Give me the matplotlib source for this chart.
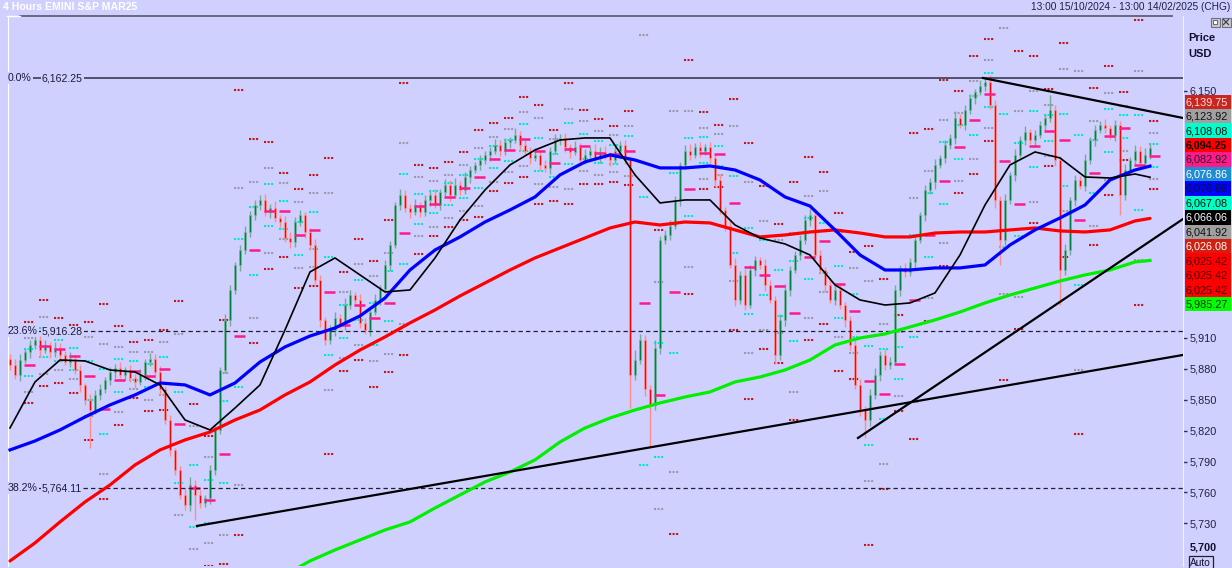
import numpy as np
import matplotlib
matplotlib.use("Agg")
import matplotlib.pyplot as plt
from matplotlib.patches import Rectangle
import matplotlib.transforms as mtransforms

plt.rcParams['font.family'] = ['Liberation Sans', 'DejaVu Sans']

# ---------------- data ----------------
TITLE = "4 Hours EMINI S&P MAR25"
PERIOD = "13:00 15/10/2024 - 13:00 14/02/2025 (CHG)"

first_open = 5890.0
closes = [
    5884, 5874, 5889, 5896, 5903, 5908, 5898, 5903, 5896, 5900,
    5893, 5887, 5890, 5879, 5864, 5850, 5840, 5855, 5860, 5869,
    5877, 5881, 5874, 5879, 5871, 5867, 5874, 5887, 5890, 5877,
    5860, 5830, 5801, 5782, 5758, 5748, 5767, 5758, 5750, 5755,
    5782, 5821, 5879, 5927, 5957, 5981, 5995, 6013, 6029, 6039,
    6044, 6032, 6036, 6026, 6023, 6007, 6003, 6023, 6029, 6013,
    6000, 5966, 5927, 5908, 5918, 5929, 5923, 5942, 5952, 5947,
    5925, 5918, 5935, 5947, 5958, 5981, 6000, 6039, 6049, 6036,
    6032, 6039, 6032, 6044, 6049, 6039, 6052, 6059, 6049, 6059,
    6054, 6066, 6073, 6078, 6083, 6088, 6092, 6097, 6092, 6100,
    6102, 6107, 6097, 6092, 6085, 6088, 6078, 6075, 6092, 6102,
    6104, 6095, 6091, 6095, 6083, 6088, 6092, 6085, 6091, 6088,
    6083, 6092, 6097, 6083, 5874, 5889, 5908, 5860, 5845, 5900,
    6005, 6010, 6019, 6044, 6078, 6092, 6088, 6095, 6092, 6095,
    6085, 6063, 6034, 6019, 5981, 5947, 5971, 5942, 5976, 5986,
    5981, 5961, 5947, 5893, 5927, 5957, 5976, 5991, 6005, 6025,
    6029, 5991, 5976, 5961, 5947, 5957, 5942, 5927, 5903, 5864,
    5840, 5830, 5855, 5874, 5893, 5884, 5887, 5957, 5978, 5974,
    5984, 6005, 6029, 6054, 6061, 6078, 6085, 6097, 6104, 6124,
    6117, 6131, 6143, 6149, 6155, 6159, 6136, 6044, 6005, 6044,
    6068, 6088, 6102, 6110, 6102, 6107, 6117, 6124, 6131, 6083,
    5976, 5995, 6044, 6063, 6058, 6083, 6102, 6112, 6117, 6114,
    6107, 6117, 6049, 6073, 6083, 6092, 6080, 6088, 6094.25,
]
wick_up = [
    4, 6, 5, 3, 5, 6, 4, 5, 3, 6,
    5, 4, 6, 3, 5, 2, 6, 4, 5, 3,
    5, 4, 6, 3, 5, 4, 6, 3, 5, 4,
    6, 3, 5, 2, 4, 6, 8, 5, 4, 3,
    5, 4, 3, 6, 4, 3, 5, 6, 4, 5,
    5, 6, 4, 7, 3, 5, 6, 4, 5, 3,
    4, 6, 5, 3, 5, 6, 4, 7, 5, 3,
    6, 4, 5, 6, 3, 5, 4, 3, 6, 5,
    4, 6, 3, 5, 4, 6, 3, 5, 4, 6,
    3, 5, 4, 3, 5, 4, 3, 6, 5, 4,
    3, 7, 4, 5, 3, 6, 4, 5, 3, 6,
    4, 5, 3, 6, 4, 5, 3, 6, 4, 5,
    3, 6, 4, 5, 3, 9, 6, 5, 4, 8,
    4, 5, 6, 4, 3, 5, 6, 4, 5, 3,
    5, 4, 6, 3, 5, 7, 4, 6, 5, 4,
    3, 6, 5, 4, 6, 5, 4, 3, 5, 4,
    6, 5, 4, 3, 6, 4, 5, 3, 4, 5,
    6, 4, 5, 7, 4, 6, 5, 4, 3, 5,
    4, 6, 3, 5, 4, 6, 3, 5, 4, 6,
    3, 5, 4, 3, 5, 3, 6, 5, 4, 6,
    3, 5, 4, 6, 3, 5, 4, 3, 15, 5,
    4, 6, 3, 5, 4, 6, 3, 5, 4, 6,
    3, 5, 4, 6, 3, 5, 4, 6, 5,
]
wick_dn = [
    5, 4, 6, 3, 5, 4, 6, 3, 5, 4,
    6, 3, 5, 4, 6, 5, 37, 4, 5, 3,
    5, 6, 3, 5, 4, 6, 3, 5, 4, 6,
    5, 4, 6, 5, 4, 5, 6, 25, 5, 4,
    6, 5, 4, 3, 5, 4, 6, 3, 5, 4,
    5, 4, 6, 3, 5, 4, 6, 5, 4, 6,
    5, 4, 6, 5, 4, 6, 3, 5, 4, 6,
    5, 4, 6, 3, 5, 4, 6, 3, 5, 4,
    6, 3, 5, 4, 6, 3, 5, 4, 6, 3,
    5, 4, 6, 3, 5, 4, 6, 3, 5, 4,
    6, 3, 5, 4, 6, 3, 5, 4, 6, 3,
    5, 4, 6, 3, 5, 4, 6, 3, 5, 4,
    6, 3, 5, 4, 32, 5, 4, 6, 41, 5,
    6, 4, 5, 3, 6, 4, 5, 3, 6, 4,
    5, 6, 4, 5, 3, 6, 4, 5, 3, 6,
    4, 5, 3, 8, 4, 5, 6, 3, 5, 4,
    6, 5, 4, 6, 3, 5, 4, 6, 5, 4,
    6, 17, 5, 4, 6, 5, 4, 3, 6, 5,
    4, 6, 3, 5, 4, 6, 3, 5, 4, 6,
    3, 5, 4, 6, 3, 5, 4, 8, 24, 5,
    4, 6, 3, 5, 4, 6, 3, 5, 4, 6,
    34, 5, 4, 6, 3, 5, 4, 6, 3, 5,
    4, 6, 20, 5, 4, 6, 3, 5, 4,
]

# moving averages read every 5 bars (plus the last bar)
ma_black = [5822.6, 5867.3, 5888.6, 5887.7, 5878.9, 5877.0, 5864.4, 5830.4, 5820.7, 5842.0,
            5864.4, 5917.8, 5974.1, 5987.7, 5971.2, 5954.7, 5956.6, 5987.7, 6024.6, 6053.7,
            6078.0, 6092.5, 6102.2, 6104.2, 6104.2, 6068.3, 6041.1, 6044.0, 6044.0, 6019.7,
            6007.1, 6001.3, 5990.6, 5961.5, 5946.9, 5942.0, 5944.0, 5953.7, 5990.6, 6039.1,
            6078.0, 6090.6, 6084.8, 6066.3, 6065.3, 6069.2, 6066.06]
ma_blue = [5801.3, 5810.0, 5820.7, 5833.3, 5845.0, 5854.7, 5866.3, 5864.4, 5854.7, 5866.3,
           5886.7, 5901.3, 5911.9, 5919.7, 5931.4, 5948.8, 5976.0, 5995.4, 6008.1, 6022.6,
           6034.3, 6046.9, 6068.3, 6080.9, 6087.7, 6082.8, 6075.1, 6075.1, 6077.0, 6073.1,
           6063.4, 6046.9, 6038.1, 6014.9, 5990.6, 5976.0, 5976.0, 5978.0, 5978.0, 5980.9,
           6000.3, 6014.9, 6026.5, 6039.1, 6063.4, 6073.1, 6076.86]
ma_red = [5693.5, 5711.0, 5731.4, 5750.8, 5767.3, 5786.7, 5801.3, 5811.0, 5818.7, 5830.4,
          5840.1, 5854.7, 5867.3, 5883.8, 5898.3, 5911.0, 5924.6, 5937.2, 5950.8, 5963.4,
          5976.0, 5987.7, 5997.4, 6007.1, 6016.8, 6022.6, 6019.7, 6022.6, 6021.7, 6014.9,
          6008.1, 6010.0, 6012.9, 6014.9, 6011.9, 6008.1, 6008.1, 6011.9, 6012.9, 6012.9,
          6014.9, 6016.8, 6013.9, 6012.9, 6014.9, 6023.6, 6026.08]
ma_green_first_reading = 11
ma_green = [5679.9, 5693.5, 5704.2, 5713.9, 5723.6, 5731.4, 5744.9, 5757.6, 5770.2, 5779.9,
            5791.6, 5809.0, 5822.6, 5832.3, 5840.1, 5846.9, 5852.7, 5857.6, 5867.3, 5872.1,
            5878.9, 5888.6, 5903.2, 5910.0, 5913.9, 5920.7, 5927.5, 5935.2, 5944.0, 5951.7,
            5958.5, 5965.3, 5971.2, 5976.0, 5983.8, 5985.27]

fib_pcts = ["0.0%", "23.6%", "38.2%"]
fib_levels = [6162.25, 5916.28, 5764.11]

# trend lines: (bar, price) -> (bar, price)
trend_lines = [((37.4, 5727.5), (234.6, 5893.5)),
               ((169.6, 5812.9), (234.6, 6025.5)),
               ((194.6, 6162.4), (234.6, 6123.6))]

label_values = [6139.75, 6123.92, 6108.08, 6094.25, 6082.92, 6076.86, 6076.86, 6067.08,
                6066.06, 6041.92, 6026.08, 6025.42, 6025.42, 6025.42, 5985.27]
label_bg = ['#C8261E', '#A0A0A0', '#00FFCC', '#FF0000', '#FF1A8C', '#1E8CD2', '#0000FF', '#00FFC4',
            '#000000', '#A0A0A0', '#D02010', '#FF0000', '#FF0000', '#FF0000', '#00FF00']
label_fg = ['#FFE0E0', '#101010', '#101010', '#000000', '#202020', '#FFFFFF', '#101030', '#101010',
            '#FFFFFF', '#101010', '#FFFFFF', '#400000', '#400000', '#400000', '#103010']

y_ticks = [5730, 5760, 5790, 5820, 5850, 5880, 5910, 6150]
y_bottom_label = 5700
y_min, y_max = 5688.6, 6222.6

# ---------------- figure ----------------
BG = '#D0D0FF'
W, H = 1232, 568
fig = plt.figure(figsize=(W / 100, H / 100), dpi=100, facecolor=BG)
ax = fig.add_axes([8 / W, 2 / H, (1183 - 8) / W, (566 - 16) / H], facecolor=BG)

n = len(closes)
xb = np.arange(n)
c = np.array(closes, dtype=float)
o = np.r_[first_open, c[:-1]]
hi = np.maximum(o, c) + np.array(wick_up)
lo = np.minimum(o, c) - np.array(wick_dn)
up = c >= o

# pivot dashes per 3-bar session
G = 3
ng = int(np.ceil(n / G))
dot_x0, dot_x1, dot_y, dot_col = [], [], [], []
piv_x0, piv_x1, piv_y = [], [], []
for g in range(1, ng):
    seg = slice((g - 1) * G, g * G)
    Hh = hi[seg].max(); Ll = lo[seg].min(); Cc = c[seg][-1]
    P = (Hh + Ll + Cc) / 3
    lv = [(2 * P - Ll, '#00E8C8'), (2 * P - Hh, '#00E8C8'),
          (P + (Hh - Ll), '#9A9AAA'), (P - (Hh - Ll), '#9A9AAA'),
          (Hh + 2 * (P - Ll), '#C81414'), (Ll - 2 * (Hh - P), '#C81414')]
    for yv, col in lv:
        dot_x0.append(g * G - 0.2); dot_x1.append(g * G + 1.7); dot_y.append(yv); dot_col.append(col)
    piv_x0.append(g * G - 0.3); piv_x1.append(g * G + 2.0); piv_y.append(P)
ax.hlines(dot_y, dot_x0, dot_x1, colors=dot_col, linestyles=[(0, (1.0, 0.7))], lw=1.5, zorder=2)
ax.hlines(piv_y, piv_x0, piv_x1, colors='#FF1A8C', lw=1.8, zorder=5)

# candles
ax.vlines(xb[up], lo[up], hi[up], color='#78A898', lw=1.0, zorder=3)
ax.vlines(xb[~up], lo[~up], hi[~up], color='#FF8C8C', lw=1.0, zorder=3)
ax.bar(xb[up], (c - o)[up], bottom=o[up], width=0.5, color='#00803F',
       edgecolor='#80B8A4', lw=0.5, zorder=4)
ax.bar(xb[~up], (c - o)[~up], bottom=o[~up], width=0.5, color='#FF0000',
       edgecolor='#FF9A9A', lw=0.5, zorder=4)

# moving averages
ma_x = np.r_[np.arange(0, 226, 5), n - 1]
ax.plot(ma_x, ma_red, color='#FF0000', lw=2.3, zorder=6, solid_capstyle='round')
ax.plot(ma_x[ma_green_first_reading:], ma_green, color='#00F000', lw=2.3, zorder=6)
ax.plot(ma_x, ma_blue, color='#0000FF', lw=2.3, zorder=6)
ax.plot(ma_x, ma_black, color='#000000', lw=1.2, zorder=7)

# fibonacci levels
blend = mtransforms.blended_transform_factory(ax.transAxes, ax.transData)
for k, (pct, lvl) in enumerate(zip(fib_pcts, fib_levels)):
    if k == 0:
        ax.axhline(lvl, color='#50506A', lw=1.4, zorder=5)
    else:
        ax.axhline(lvl, color='#202030', lw=0.9, ls=(0, (3.5, 2.5)), zorder=5)
    ax.text(0.0, lvl, pct, transform=blend, fontsize=7.6, color='#1A1A3A', va='center', ha='left',
            bbox=dict(facecolor=BG, edgecolor='none', pad=0.6), zorder=8)
    ax.text(34 / 1175, lvl, f"{lvl:,.2f}", transform=blend, fontsize=7.6, color='#1A1A3A',
            va='center', ha='left', bbox=dict(facecolor=BG, edgecolor='none', pad=0.6), zorder=8)

# trend lines
for (x0, y0), (x1, y1) in trend_lines:
    ax.plot([x0, x1], [y0, y1], color='black', lw=1.6, zorder=8)

ax.set_xlim(-0.4, 234.6)
ax.set_ylim(y_min, y_max)
ax.set_xticks([])
ax.yaxis.tick_right()
ax.set_yticks(y_ticks)
ax.set_yticklabels([f"{v:,.0f}" for v in y_ticks])
ax.tick_params(axis='y', length=3, width=1, color='#303050', labelsize=7.8,
               labelcolor='#202040', pad=1.5)
for s in ['top', 'bottom']:
    ax.spines[s].set_visible(False)
ax.spines['left'].set_color('#FFFFFF')
ax.spines['right'].set_color('#F4F4FF')

# ---------------- overlay (header / price panel) ----------------
ov = fig.add_axes([0, 0, 1, 1], zorder=10)
ov.set_xlim(0, W); ov.set_ylim(H, 0)
ov.axis('off')
ov.patch.set_alpha(0)

ov.text(3, 7, TITLE, color='white', fontsize=7.6, fontweight='bold', va='center', ha='left')
ov.text(1230, 7, PERIOD, color='#202040', fontsize=7.3, va='center', ha='right')
ov.plot([20, 1172], [16, 16], color='#606075', lw=1.3)
ov.plot([7, 20], [16, 16], color='#FFFFFF', lw=1.0)
ov.text(1188, 38, "Price", color='#101030', fontsize=8, fontweight='bold', va='center')
ov.text(1188, 54, "USD", color='#101030', fontsize=8, fontweight='bold', va='center')
ov.add_patch(Rectangle((1210.5, 17.5), 9, 9, facecolor='#C8C8D0', edgecolor='#707080', lw=0.8))
ov.add_patch(Rectangle((1213, 20), 4, 4, facecolor='white', edgecolor='#505060', lw=0.6))
ov.add_patch(Rectangle((1221.5, 17.5), 9, 9, facecolor='#C8C8D0', edgecolor='#707080', lw=0.8))
ov.plot([1223.5, 1228.5], [19.5, 24.5], color='#404050', lw=0.9)
ov.plot([1223.5, 1228.5], [24.5, 19.5], color='#404050', lw=0.9)

for k, (v, bg, fg) in enumerate(zip(label_values, label_bg, label_fg)):
    yc = 101.7 + 14.45 * k
    ov.add_patch(Rectangle((1185, yc - 7.2), 46, 14.4, facecolor=bg, edgecolor='none'))
    ov.text(1186, yc + 0.5, f"{v:,.2f}", color=fg, fontsize=7.6 if k == 3 else 7.8,
            va='center', ha='left', fontweight='bold' if k == 3 else 'normal')

ov.text(1190, 547, f"{y_bottom_label:,.0f}", color='#101030', fontsize=7.8, fontweight='bold',
        va='center', ha='left')
ov.add_patch(Rectangle((1188.5, 555.5), 24, 13, facecolor='none', edgecolor='#202030', lw=0.9))
ov.text(1200.5, 562.5, "Auto", color='#101030', fontsize=7.3, va='center', ha='center')

fig.savefig("out.png", dpi=100, facecolor=BG)
